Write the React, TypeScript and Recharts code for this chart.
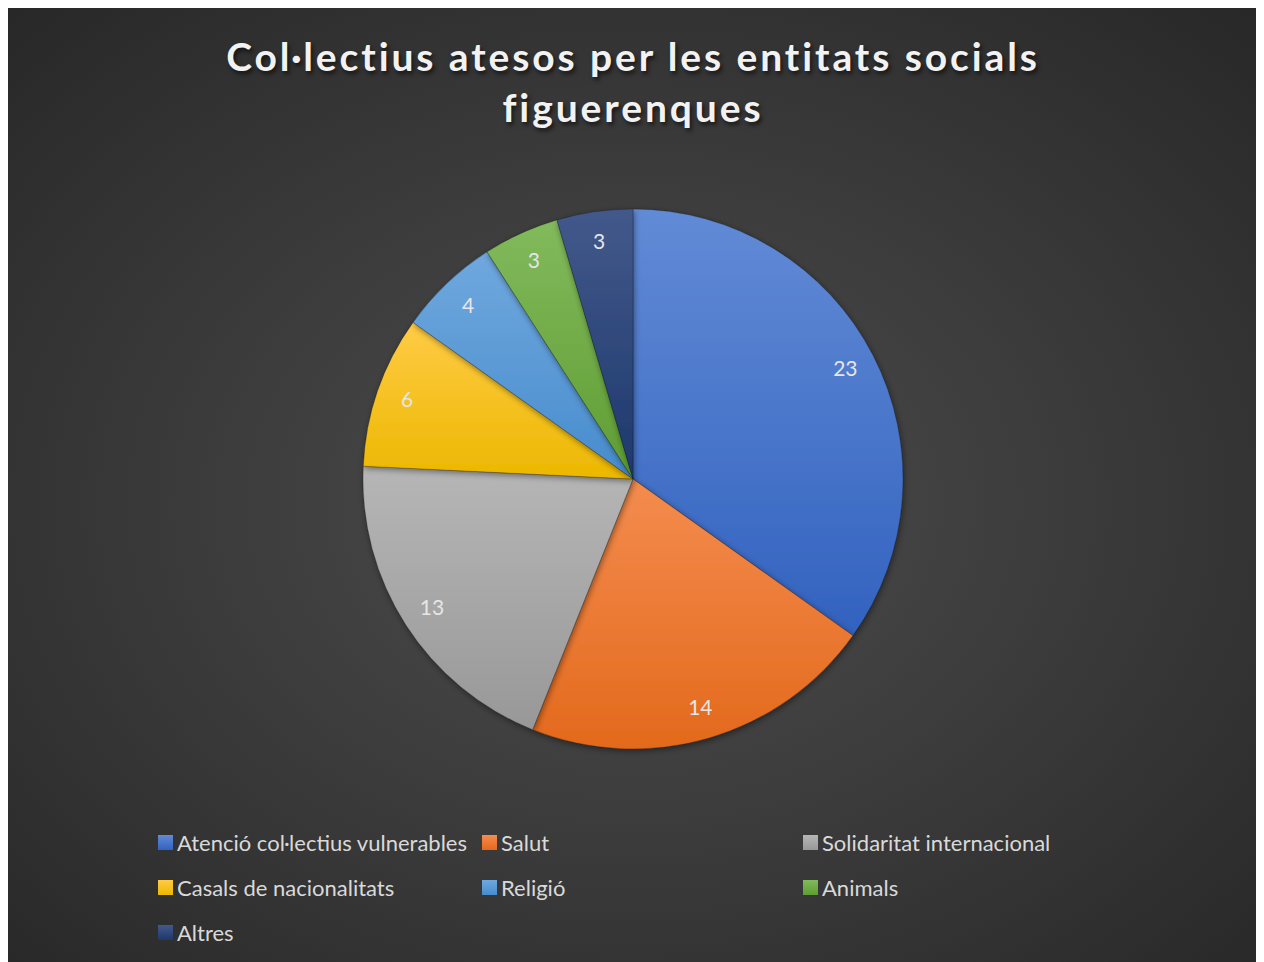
import React from "react";
import { Cell, Legend, Pie, PieChart } from "recharts";

const categories = [
  "Atenció col·lectius vulnerables",
  "Salut",
  "Solidaritat internacional",
  "Casals de nacionalitats",
  "Religió",
  "Animals",
  "Altres",
];
const values = [23, 14, 13, 6, 4, 3, 3];
const topColors = ["#628BD6", "#F48C4E", "#B6B6B6", "#FFCB45", "#70A8DE", "#82BA5C", "#43598B"];
const bottomColors = ["#3262BF", "#E3691C", "#989898", "#ECB800", "#478CCD", "#5F9D33", "#1D386C"];

const data = categories.map((name, i) => ({ name, value: values[i] }));

const RAD = Math.PI / 180;

function renderLabel(props: any) {
  const { cx, cy, midAngle, outerRadius, value } = props;
  const r = outerRadius * 0.885;
  const x = cx + r * Math.cos(-midAngle * RAD);
  const y = cy + r * Math.sin(-midAngle * RAD) - 2;
  return (
    <text
      x={x}
      y={y}
      fill="#e6e6e6"
      fontSize={21}
      fontFamily="Lato, 'Open Sans', sans-serif"
      textAnchor="middle"
      dominantBaseline="central"
    >
      {value}
    </text>
  );
}

// legend in the original series order (recharts sorts payload by name)
function LegendContent() {
  return (
    <div
      style={{
        display: "grid",
        gridTemplateColumns: "324px 321px 300px",
        fontFamily: "Lato, 'Open Sans', sans-serif",
        fontSize: 22,
        color: "#d9d9d9",
      }}
    >
      {categories.map((name, i) => (
        <div key={name} style={{ display: "flex", alignItems: "center", height: 45 }}>
          <span
            style={{
              width: 15,
              height: 15,
              marginRight: 4,
              background: `linear-gradient(${topColors[i]}, ${bottomColors[i]})`,
              display: "inline-block",
            }}
          />
          {name}
        </div>
      ))}
    </div>
  );
}

export default function App() {
  return (
    <div
      style={{
        position: "relative",
        width: 1250,
        height: 954,
        background:
          "radial-gradient(ellipse 75% 75% at 50% 52%, #4d4d4d 0%, #3c3c3c 45%, #262626 100%)",
      }}
    >
      <div
        style={{
          position: "absolute",
          top: 23,
          left: 0,
          width: 1250,
          textAlign: "center",
          color: "#f2f2f2",
          fontFamily: "Lato, 'Open Sans', sans-serif",
          fontWeight: 700,
          fontSize: 39,
          letterSpacing: 2.9,
          lineHeight: "51px",
          textShadow: "2px 3px 4px rgba(0,0,0,0.6)",
        }}
      >
        Col·lectius atesos per les entitats socials
        <br />
        figuerenques
      </div>
      <PieChart width={1250} height={954} margin={{ top: 0, right: 0, bottom: 0, left: 0 }}>
        <defs>
          {topColors.map((c, i) => (
            <linearGradient key={i} id={`g${i}`} x1="0" y1="0" x2="0" y2="1">
              <stop offset="0%" stopColor={c} />
              <stop offset="100%" stopColor={bottomColors[i]} />
            </linearGradient>
          ))}
          <filter id="shadow" x="-10%" y="-10%" width="120%" height="120%">
            <feDropShadow dx="1" dy="2" stdDeviation="3" floodColor="#000" floodOpacity="0.45" />
          </filter>
        </defs>
        <Pie
          data={data}
          dataKey="value"
          nameKey="name"
          cx={625}
          cy={471}
          outerRadius={270}
          startAngle={90}
          endAngle={-270}
          stroke="rgba(0,0,0,0.3)"
          strokeWidth={0.75}
          label={renderLabel}
          labelLine={false}
          isAnimationActive={false}
          style={{ filter: "url(#shadow)" }}
        >
          {data.map((d, i) => (
            <Cell key={d.name} fill={`url(#g${i})`} />
          ))}
        </Pie>
        <Legend
          content={<LegendContent />}
          wrapperStyle={{ position: "absolute", left: 150, top: 812, width: 960 }}
        />
      </PieChart>
    </div>
  );
}
